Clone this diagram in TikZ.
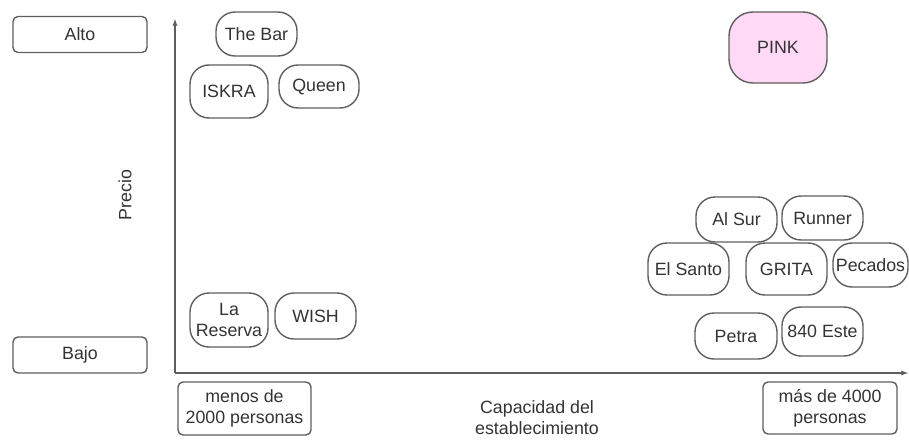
\documentclass[tikz,border=0pt]{standalone}
\usepackage{fontspec}
\setmainfont{Liberation Sans}
\usepackage{tikz}
\usetikzlibrary{positioning}
\usetikzlibrary{arrows}
\definecolor{edgegray}{HTML}{5E5E5E}
\definecolor{textgray}{HTML}{333333}
\definecolor{pinkfill}{HTML}{FFD9F5}

\begin{document}
\begin{tikzpicture}[x=1pt,y=-1pt,>=latex,
	every node/.style={text=textgray,font=\fontsize{17.8}{21}\selectfont},
	venue/.style={draw=edgegray,line width=1.4pt,rounded corners=19pt,inner sep=1pt,align=center},
	levelbox/.style={draw=edgegray,line width=1.4pt,rounded corners=5pt,inner sep=1pt,align=center},
	axis/.style={draw=edgegray,line width=1.3pt},
	]
	\useasboundingbox (0,0) rectangle (909,439);

	% price labels
	\node[levelbox, minimum width=134pt, minimum height=36pt] (alto) at (80,34.5) {Alto};
	\node[levelbox, minimum width=134pt, minimum height=36pt] (bajo) at (80,355) {Bajo};
	\node[rotate=90] (precio) at (125,195) {Precio};

	% axes
	\coordinate (origin) at (175,373);
	\coordinate (ytop) at (175,19);
	\coordinate (xend) at (908,373);
	\draw[axis,->] (origin) -- (ytop);
	\draw[axis,->] (origin) -- (xend);

	% capacity labels
	\node[levelbox, minimum width=133pt, minimum height=53pt] (menos) at (244.5,408.5) {menos de\\2000 personas};
	\node[levelbox, minimum width=134pt, minimum height=52pt] (mas) at (830,408) {más de 4000\\personas};
	\node[align=center] (capacidad) at (537,418) {Capacidad del\\establecimiento};

	% small places
	\node[venue, minimum width=81pt, minimum height=44pt] (thebar) at (256.5,34) {The Bar};
	\node[venue, minimum width=78pt, minimum height=53pt] (iskra) at (229,91.5) {ISKRA};
	\node[venue, minimum width=80pt, minimum height=43pt] (queen) at (319,86.5) {Queen};
	\node[venue, minimum width=78pt, minimum height=54pt] (lareserva) at (229,320) {La\\Reserva};
	\node[venue, minimum width=81pt, minimum height=46pt] (wish) at (315.5,316) {WISH};

	% big places
	\node[venue, fill=pinkfill, rounded corners=24pt, minimum width=98pt, minimum height=71pt] (pink) at (778,47.5) {PINK};
	\node[venue, minimum width=81pt, minimum height=45pt] (alsur) at (736.5,219.5) {Al Sur};
	\node[venue, minimum width=81pt, minimum height=44pt] (runner) at (822.5,218) {Runner};
	\node[venue, minimum width=81pt, minimum height=52pt] (elsanto) at (688.5,269) {El Santo};
	\node[venue, minimum width=81pt, minimum height=52pt] (grita) at (786.5,269) {GRITA};
	\node[venue, minimum width=75pt, minimum height=44pt] (pecados) at (870.5,265) {Pecados};
	\node[venue, minimum width=82pt, minimum height=46pt] (petra) at (736,336) {Petra};
	\node[venue, minimum width=81pt, minimum height=49pt] (este) at (822.5,331.5) {840 Este};
\end{tikzpicture}
\end{document}
